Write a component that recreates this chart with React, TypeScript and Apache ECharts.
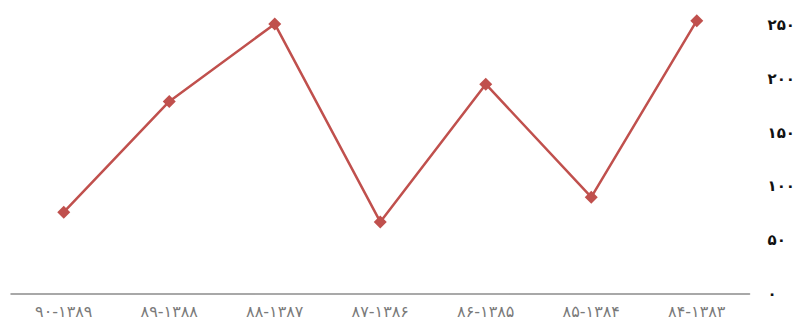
import React, { useEffect, useRef } from "react";
import * as echarts from "echarts";

// chronological order (displayed right-to-left)
const categories = ["۸۴-۱۳۸۳", "۸۵-۱۳۸۴", "۸۶-۱۳۸۵", "۸۷-۱۳۸۶", "۸۸-۱۳۸۷", "۸۹-۱۳۸۸", "۹۰-۱۳۸۹"];
const values = [254, 90, 195, 67, 251, 179, 76];
const yTicks = [0, 50, 100, 150, 200, 250];
const yTickLabels = ["۰", "۵۰", "۱۰۰", "۱۵۰", "۲۰۰", "۲۵۰"];

export default function App() {
  const ref = useRef<HTMLDivElement>(null);
  useEffect(() => {
    if (!ref.current) return;
    const chart = echarts.init(ref.current, null, { renderer: "svg" });
    chart.setOption({
      animation: false,
      grid: { left: 11, right: 48, top: 25, bottom: 37, containLabel: false },
      xAxis: {
        type: "category",
        data: categories,
        inverse: true,
        boundaryGap: true,
        axisLine: { show: true, lineStyle: { color: "#8c8c8c", width: 1.5 } },
        axisTick: { show: false },
        axisLabel: {
          color: "#7a7a7a",
          fontSize: 16,
          fontFamily: "DejaVu Sans",
          margin: 9,
        },
        splitLine: { show: false },
      },
      yAxis: {
        type: "value",
        position: "right",
        min: 0,
        max: 250,
        interval: 50,
        axisLine: { show: false },
        axisTick: { show: false },
        splitLine: { show: false },
        axisLabel: {
          color: "#111111",
          fontSize: 15,
          fontWeight: "bold",
          fontFamily: "DejaVu Sans",
          margin: 18,
          formatter: (v: number) => {
            const i = yTicks.indexOf(v);
            return i >= 0 ? yTickLabels[i] : "";
          },
        },
      },
      series: [
        {
          type: "line",
          data: values,
          clip: false,
          symbol: "diamond",
          symbolSize: 13,
          lineStyle: { color: "#c0504d", width: 2.5 },
          itemStyle: { color: "#c0504d" },
        },
      ],
    });
    return () => chart.dispose();
  }, []);
  return <div ref={ref} style={{ width: 798, height: 331, position: "absolute", left: 0, top: 0 }} />;
}
